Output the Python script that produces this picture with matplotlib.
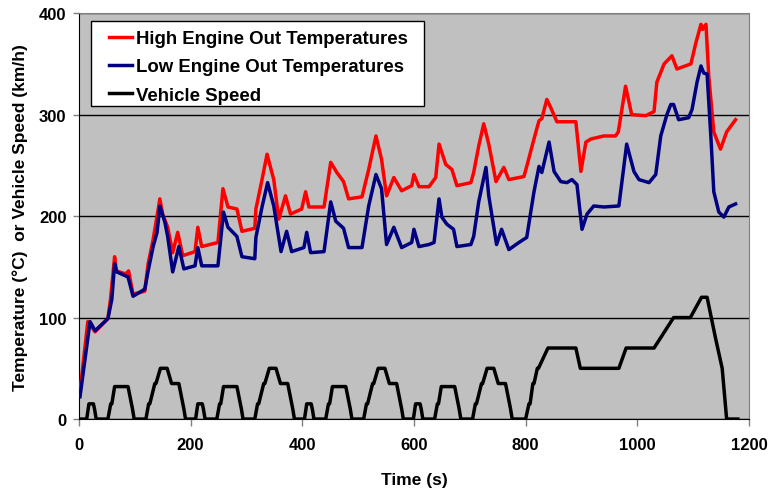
import matplotlib
matplotlib.use("Agg")
import matplotlib.pyplot as plt
from matplotlib.patches import Rectangle

plt.rcParams['font.family'] = ['Liberation Sans', 'DejaVu Sans']
plt.rcParams['font.weight'] = 'bold'

# high engine out temperatures (time s, temp C)
high_t = [2, 16, 29, 52, 57, 64, 67, 84, 89, 97, 118, 124, 133, 140, 145, 150, 159, 168, 177, 186,
          208, 213, 220, 249, 258, 267, 283, 292, 315,
          317, 328, 337, 349, 358, 370, 379, 399, 406, 412, 439, 451, 462, 474, 483, 507, 519, 532,
          542, 551, 564, 578, 596, 600, 609, 627, 639, 645, 657, 668, 677, 702, 707, 716, 725, 734,
          747, 761, 770, 797, 802, 815, 824, 829, 838, 845, 856, 890, 899, 908, 917, 940, 961, 966,
          979, 990, 1015, 1030, 1035, 1048, 1062, 1071, 1096, 1105, 1114, 1117, 1123, 1128, 1137,
          1149, 1160, 1176]
high_T = [27, 96, 86, 99, 120, 160, 146, 143, 146, 123, 126, 153, 177, 200, 217, 202, 189, 164, 184, 161,
          165, 189, 170, 174, 227, 209, 207, 185, 188,
          207, 236, 261, 236, 197, 220, 202, 207, 224, 209, 209, 253, 243, 234, 217, 219, 246, 279,
          256, 220, 238, 225, 230, 241, 229, 229, 238, 271, 251, 246, 230, 233, 243, 269, 291, 271,
          234, 248, 236, 239, 249, 276, 294, 296, 315, 307, 293, 293, 244, 273, 276, 279, 279, 283,
          328, 300, 299, 303, 332, 350, 358, 345, 350, 371, 389, 384, 389, 338, 283,
          266, 283, 295]

# low engine out temperatures
low_t = [2, 20, 29, 52, 59, 64, 68, 88, 97, 118, 124, 133, 140, 145, 154, 159, 168, 179, 188, 208,
         213, 220, 249, 259, 267, 283, 292, 315,
         317, 328, 338, 349, 362, 372, 381, 403, 408, 415, 439, 451, 460, 474, 483, 507, 519, 532,
         542, 551, 564, 578, 596, 600, 609, 627,
         636, 645, 650, 659, 671, 677, 702, 707, 716, 729, 734, 748, 757, 770, 788, 802, 815, 824,
         829, 842, 851, 863, 874, 883, 892, 901, 910, 922, 940,
         967, 981, 994, 1003, 1021, 1033, 1042, 1053, 1060, 1065, 1074, 1092, 1098, 1107, 1114,
         1119, 1125, 1132, 1137, 1146, 1155, 1164, 1176]
low_T = [22, 96, 87, 99, 118, 153, 145, 140, 121, 128, 146, 170, 184, 210, 194, 180, 145, 170, 148, 151,
         169, 151, 151, 204, 189, 180, 160, 158,
         179, 209, 233, 210, 165, 185, 165, 169, 184, 164, 165, 214, 195, 188, 169, 169, 210, 241,
         227, 172, 189, 169, 174, 187, 170, 172,
         174, 217, 199, 192, 187, 170, 172, 180, 214, 248, 220, 172, 187, 167, 174, 179, 224, 249,
         243, 273, 244, 234, 233, 236, 231, 187, 202, 210, 209,
         210, 271, 244, 236, 233, 241, 279, 300, 310, 310, 295, 297, 305, 332, 348,
         341, 340, 276, 224, 204, 199, 209, 212]

# vehicle speed (km/h), NEDC
speed_t = [0, 14, 18, 26, 28, 31, 52, 57, 59, 64, 88, 96, 99, 120, 125, 127, 136, 138, 146, 158, 166, 179, 188, 191,
           209, 213, 221, 223, 226, 247, 252, 254, 259, 283, 291, 294, 315, 320, 322, 331, 333, 341, 353, 361, 374, 383, 386,
           404, 408, 416, 418, 421, 442, 447, 449, 454, 478, 486, 489, 510, 515, 517, 526, 528, 536, 548, 556, 569, 578, 581,
           599, 603, 611, 613, 616, 637, 642, 644, 649, 673, 681, 684, 705, 710, 712, 721, 723, 731, 743, 751, 764, 773, 776,
           800, 806, 808, 813, 815, 821, 823, 840, 890, 898, 967, 980, 1030, 1065, 1095, 1115, 1125, 1140, 1152, 1160, 1180]
speed_v = [0, 0, 15, 15, 10, 0, 0, 15, 15, 32, 32, 10, 0, 0, 15, 15, 35, 35, 50, 50, 35, 35, 10, 0,
           0, 15, 15, 10, 0, 0, 15, 15, 32, 32, 10, 0, 0, 15, 15, 35, 35, 50, 50, 35, 35, 10, 0,
           0, 15, 15, 10, 0, 0, 15, 15, 32, 32, 10, 0, 0, 15, 15, 35, 35, 50, 50, 35, 35, 10, 0,
           0, 15, 15, 10, 0, 0, 15, 15, 32, 32, 10, 0, 0, 15, 15, 35, 35, 50, 50, 35, 35, 10, 0,
           0, 15, 15, 35, 35, 50, 50, 70, 70, 50, 50, 70, 70, 100, 100, 120, 120, 80, 50, 0, 0]

fig = plt.figure(figsize=(7.81, 4.89), dpi=100)
ax = fig.add_axes([0.101, 0.141, 0.858, 0.830])
ax.set_facecolor('#C0C0C0')

ax.plot(high_t, high_T, color='#FF0000', lw=2.5, label='High Engine Out Temperatures', zorder=3)
ax.plot(low_t, low_T, color='#000080', lw=2.5, label='Low Engine Out Temperatures', zorder=4)
ax.plot(speed_t, speed_v, color='black', lw=2.5, label='Vehicle Speed', zorder=5)

ax.set_xlim(0, 1200)
ax.set_ylim(0, 400)
ax.set_xticks(range(0, 1201, 200))
ax.set_yticks(range(0, 401, 100))
ax.yaxis.grid(True, color='black', lw=1)
ax.set_axisbelow(True)
ax.tick_params(labelsize=12, length=5, width=1, color='#808080')
ax.tick_params(axis='x', pad=8)
ax.tick_params(axis='y', length=4, pad=5)
for lab in ax.get_xticklabels() + ax.get_yticklabels():
    lab.set_fontweight('bold')

for s in ['top', 'right']:
    ax.spines[s].set_color('#808080')
for s in ['left', 'bottom']:
    ax.spines[s].set_color('black')

ax.set_xlabel('Time (s)', fontsize=12.5, fontweight='bold', labelpad=14)
ax.set_ylabel('Temperature (\u00b0C)  or Vehicle Speed (km/h)', fontsize=12.5, fontweight='bold', labelpad=8)

# legend box drawn separately so its padding can match
box = Rectangle((0.018, 0.771), 0.497, 0.209, transform=ax.transAxes,
                facecolor='white', edgecolor='black', lw=1, zorder=6)
ax.add_patch(box)
leg = ax.legend(loc='upper left', bbox_to_anchor=(0.0448, 0.958), borderaxespad=0,
                frameon=False, handlelength=1.25, handletextpad=0.22, labelspacing=0.6,
                borderpad=0, prop={'weight': 'bold', 'size': 13.4})
leg.set_zorder(7)

fig.savefig('out.png', dpi=100)
